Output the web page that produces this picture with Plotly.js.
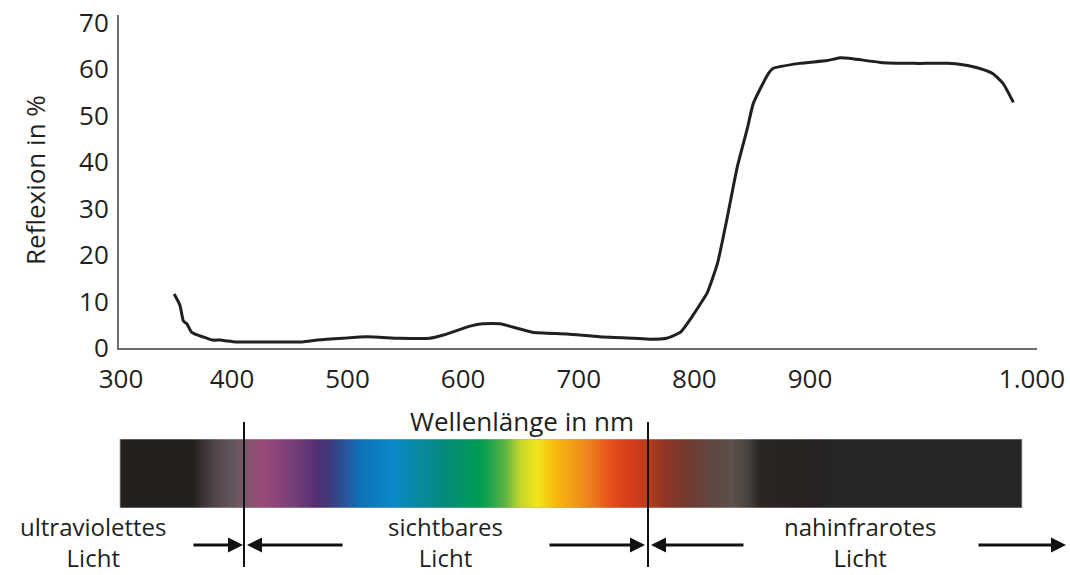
<!DOCTYPE html>
<html>
<head>
<meta charset="utf-8">
<script src="https://cdn.plot.ly/plotly-3.0.1.min.js"></script>
<style>html,body{margin:0;padding:0;background:#fff;}#chart{width:1070px;height:575px;}</style>
</head>
<body>
<div id="chart"></div>
<script>
// ---- data ----
const wavelengthNm = [350, 355, 358, 361, 365, 370, 375, 383, 390, 396,
  404, 433, 461, 474, 496, 517, 545, 571, 583, 606,
  617, 632, 643, 660, 690, 718, 747, 762, 776, 788,
  799, 805, 811, 820, 828, 837, 846, 851, 864, 868,
  891, 915, 926, 937, 961, 989, 1001, 1019, 1032, 1047,
  1058, 1067, 1076];
const reflexionPct = [11.6, 9.2, 5.8, 5.2, 3.4, 2.8, 2.4, 1.7, 1.7, 1.5,
  1.3, 1.3, 1.3, 1.7, 2.1, 2.4, 2.1, 2.1, 2.8, 4.7,
  5.2, 5.2, 4.5, 3.4, 3.0, 2.4, 2.1, 1.9, 2.1, 3.4,
  7.1, 9.4, 11.8, 18.2, 27.5, 38.8, 47.4, 52.6, 59.0, 60.1,
  61.2, 61.8, 62.4, 62.2, 61.4, 61.2, 61.2, 61.2, 60.9, 60.1,
  59.0, 56.9, 52.8];

const xTickVals = [304, 400, 500, 600, 700, 800, 900, 1092];
const xTickText = ['300', '400', '500', '600', '700', '800', '900', '1.000'];
const yTickVals = [0, 10, 20, 30, 40, 50, 60, 70];

// spectrum bar (wavelength scale of the band) and its colours
const spectrumNm = [307.9, 362.1, 377.0, 392.6, 399.3, 413.4, 420.8, 438.6, 454.2, 463.9,
  479.5, 486.9, 509.9, 520.3, 546.3, 576.7, 593.8, 604.9, 617.6, 633.2,
  653.2, 671.0, 684.4, 700.0, 712.6, 731.2, 747.5, 762.4, 774.2, 783.2,
  827.7, 838.8, 977.7];
const spectrumColors = ['#231f1d', '#24201e', '#4e4447', '#66555e', '#77586a', '#9b4a78', '#914679', '#723d77', '#552e74', '#3d3b7c',
  '#1f5fa6', '#0f72b8', '#0a88c8', '#098ab4', '#05897f', '#009e4f', '#5cb347', '#c2d52c', '#f2e51a', '#f6b40c',
  '#ef8a1e', '#e6541b', '#d93e1a', '#b93d1c', '#8e3526', '#6f3a30', '#5f4840', '#5b504a', '#48433f', '#2a2421',
  '#272222', '#262626', '#262626'];
const bandLimitsNm = [400, 700];
const regionLabels = [['ultraviolettes', 'Licht'], ['sichtbares', 'Licht'], ['nahinfrarotes', 'Licht']];

// ---- layout helpers (pixel -> paper) ----
const W = 1070, H = 575;
const px = x => x / W;
const py = y => 1 - y / H;
const ink = '#231f20';
const FONT = 'Open Sans, Noto Sans, sans-serif';

const barLo = spectrumNm[0], barHi = spectrumNm[spectrumNm.length - 1];
const colorscale = spectrumNm.map((n, i) => [(n - barLo) / (barHi - barLo), spectrumColors[i]]);

const traces = [
  {
    type: 'scatter', mode: 'lines',
    x: wavelengthNm, y: reflexionPct,
    line: {color: ink, width: 3, shape: 'spline', smoothing: 0.5},
    hoverinfo: 'x+y'
  },
  {
    type: 'scatter', mode: 'lines',
    x: [barLo, barHi, barHi, barLo, barLo], y: [0, 0, 1, 1, 0],
    xaxis: 'x2', yaxis: 'y2',
    line: {color: '#b8b8b8', width: 0.8},
    fill: 'toself',
    fillcolor: '#555',
    fillgradient: {type: 'horizontal', colorscale: colorscale},
    hoverinfo: 'skip'
  }
];

const shapes = bandLimitsNm.map(v => ({
  type: 'line', xref: 'x2', yref: 'paper',
  x0: v, x1: v, y0: py(422), y1: py(567),
  line: {color: '#111', width: 2}
}));

const annotations = [];
// axis titles
annotations.push({xref: 'paper', yref: 'paper', x: px(522), y: py(421), xanchor: 'center', yanchor: 'middle',
  text: 'Wellenlänge in nm', showarrow: false, font: {size: 26, color: ink, family: FONT}});
annotations.push({xref: 'paper', yref: 'paper', x: px(35), y: py(180), xanchor: 'center', yanchor: 'middle',
  text: 'Reflexion in %', textangle: -90, showarrow: false, font: {size: 26, color: ink, family: FONT}});
// region labels (two lines each)
const labelCenters = [93, 445, 860];
regionLabels.forEach((lines, i) => {
  annotations.push({xref: 'paper', yref: 'paper', x: px(labelCenters[i]), y: py(575), xanchor: 'center', yanchor: 'bottom',
    text: lines.join('<br>'), align: 'center', showarrow: false, borderpad: 0,
    font: {size: 24, color: ink, family: FONT}});
});
// arrows [headX, tailX]
const arrows = [[243, 192], [247, 344], [645, 548], [651, 745], [1066, 977]];
arrows.forEach(a => {
  annotations.push({xref: 'paper', yref: 'paper', x: px(a[0]), y: py(545),
    ax: a[1] - a[0], ay: 0, axref: 'pixel', ayref: 'pixel',
    text: '', showarrow: true, arrowhead: 2, arrowsize: 1, arrowwidth: 3, arrowcolor: '#111', standoff: 0, startstandoff: 0});
});

const layout = {
  width: W, height: H,
  margin: {l: 0, r: 0, t: 0, b: 0},
  paper_bgcolor: '#fff', plot_bgcolor: 'rgba(0,0,0,0)',
  showlegend: false,
  font: {family: FONT, color: ink, size: 26},
  xaxis: {
    domain: [px(119), px(1037)], range: [302.3, 1096.4], anchor: 'y',
    showline: true, linecolor: '#6d6e71', linewidth: 2,
    showgrid: false, zeroline: false, ticks: '',
    tickmode: 'array', tickvals: xTickVals, ticktext: xTickText,
    tickfont: {size: 26, color: ink, family: FONT}, ticklabelstandoff: 7
  },
  yaxis: {
    domain: [py(348), py(15)], range: [0, 71.6], anchor: 'x',
    showline: true, linecolor: '#6d6e71', linewidth: 2,
    showgrid: false, zeroline: false, ticks: '',
    tickmode: 'array', tickvals: yTickVals,
    tickfont: {size: 26, color: ink, family: FONT}, ticklabelstandoff: 3
  },
  xaxis2: {domain: [0, 1], range: [400 - 244 / 1.3467, 400 + (W - 244) / 1.3467], anchor: 'y2', visible: false, fixedrange: true},
  yaxis2: {domain: [py(508), py(439)], range: [0, 1], anchor: 'x2', visible: false, fixedrange: true},
  shapes: shapes,
  annotations: annotations
};

Plotly.newPlot('chart', traces, layout, {displayModeBar: false, staticPlot: true});
</script>
</body>
</html>
